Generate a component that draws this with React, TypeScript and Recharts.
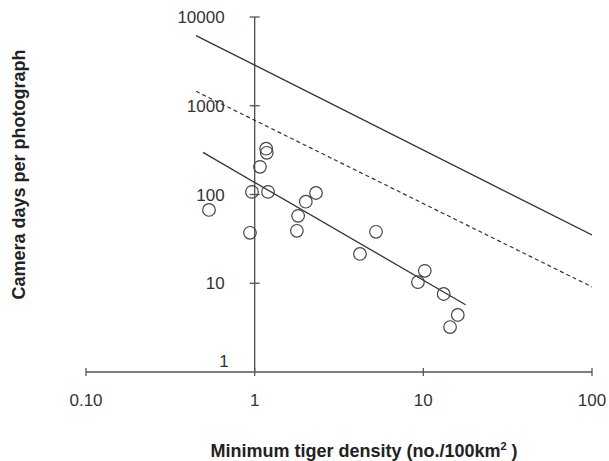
import {
  Label,
  ReferenceDot,
  ReferenceLine,
  Scatter,
  ScatterChart,
  XAxis,
  YAxis,
} from "recharts";

// minimum tiger density (no./100km2) and camera days per photograph, one per site
const densities = [
  1.17, 1.18, 1.075, 0.964, 1.2, 0.536, 0.938, 2.31, 2.01, 1.81, 1.78, 5.24,
  4.21, 10.2, 9.29, 13.2, 16.0, 14.4,
];
const cameraDays = [
  328, 295, 205, 107, 107, 67, 37, 104, 83, 57.5, 39, 38, 21.4, 13.8, 10.3,
  7.57, 4.39, 3.21,
];

// end points of the three lines
const upperLineX = [0.449, 100];
const upperLineY = [6180, 35];
const dashedLineX = [0.449, 100];
const dashedLineY = [1455, 9.1];
const fitLineX = [0.494, 17.8];
const fitLineY = [298, 5.73];

const xTicks = [0.1, 1, 10, 100];
const xTickLabels = ["0.10", "1", "10", "100"];
const yTicks = [1, 10, 100, 1000, 10000];
const yTickLabels = ["1", "10", "100", "1000", "10000"];

const points = densities.map((x, i) => ({ x, y: cameraDays[i] }));
const toLine = (xs: number[], ys: number[]) =>
  xs.map((x, i) => ({ x, y: ys[i] }));

const FONT = "'Liberation Sans', Arial, Helvetica, sans-serif";
const INK = "#333";
const AXIS = "#555";

function XTick(props: any) {
  const { x, y, payload } = props;
  const label = xTickLabels[xTicks.indexOf(payload.value)] ?? String(payload.value);
  return (
    <g>
      <line x1={x} x2={x} y1={y - 4} y2={y + 4} stroke={AXIS} strokeWidth={1.3} />
      <text
        x={x}
        y={y + 34}
        textAnchor="middle"
        fontSize={17}
        fontFamily={FONT}
        fill={INK}
      >
        {label}
      </text>
    </g>
  );
}

// tick mark and label drawn where the value sits on the y axis (x = 1)
const yTickShape = (label: string) => (props: any) => {
  const { cx, cy } = props;
  const atOrigin = label === "1";
  return (
    <g>
      {!atOrigin && (
        <line x1={cx - 5} x2={cx + 5} y1={cy} y2={cy} stroke={AXIS} strokeWidth={1.3} />
      )}
      <text
        x={atOrigin ? cx - 26 : cx - 30}
        y={atOrigin ? cy - 5 : cy + 6}
        textAnchor="end"
        fontSize={17}
        fontFamily={FONT}
        fill={INK}
      >
        {label}
      </text>
    </g>
  );
};

const ring = (props: any) => (
  <circle
    cx={props.cx}
    cy={props.cy}
    r={6.3}
    fill="none"
    stroke="#444"
    strokeWidth={1.2}
  />
);

const noMarker = () => <g />;

function XTitle(props: any) {
  const vb = props.viewBox;
  return (
    <text
      x={vb.x + vb.width / 2 + 25}
      y={vb.y + 85}
      textAnchor="middle"
      fontSize={18}
      fontWeight="bold"
      fontFamily={FONT}
      fill="#222"
    >
      Minimum tiger density (no./100km
      <tspan dy={-7} fontSize={11}>
        2
      </tspan>
      <tspan dy={7}> )</tspan>
    </text>
  );
}

function YTitle(props: any) {
  const vb = props.viewBox;
  const cx = vb.x + 19;
  const cy = vb.y + vb.height / 2 - 20;
  return (
    <text
      x={cx}
      y={cy}
      transform={`rotate(-90 ${cx} ${cy})`}
      textAnchor="middle"
      dominantBaseline="central"
      fontSize={18}
      fontWeight="bold"
      fontFamily={FONT}
      fill="#222"
    >
      Camera days per photograph
    </text>
  );
}

export default function App() {
  return (
    <div style={{ position: "absolute", left: 0, top: 0, background: "#fff" }}>
      <ScatterChart
        width={609}
        height={461}
        margin={{ top: 17, right: 17, bottom: 0, left: 0 }}
      >
        <XAxis
          type="number"
          dataKey="x"
          scale="log"
          domain={[0.1, 100]}
          ticks={xTicks}
          allowDataOverflow
          height={89}
          tickSize={0}
          tickMargin={0}
          tickLine={false}
          axisLine={{ stroke: AXIS, strokeWidth: 1.3 }}
          tick={<XTick />}
        >
          <Label content={XTitle} />
        </XAxis>
        <YAxis
          type="number"
          dataKey="y"
          scale="log"
          domain={[1, 10000]}
          ticks={yTicks}
          allowDataOverflow
          width={86}
          tick={false}
          tickLine={false}
          axisLine={false}
        >
          <Label content={YTitle} />
        </YAxis>
        <ReferenceLine x={1} stroke={AXIS} strokeWidth={1.4} />
        {yTicks.map((v, i) => (
          <ReferenceDot
            key={v}
            x={1}
            y={v}
            r={0}
            shape={yTickShape(yTickLabels[i])}
          />
        ))}
        <Scatter
          data={toLine(upperLineX, upperLineY)}
          line={{ stroke: INK, strokeWidth: 1.3 }}
          shape={noMarker}
          isAnimationActive={false}
        />
        <Scatter
          data={toLine(dashedLineX, dashedLineY)}
          line={{ stroke: INK, strokeWidth: 1.2, strokeDasharray: "4 3" }}
          shape={noMarker}
          isAnimationActive={false}
        />
        <Scatter
          data={toLine(fitLineX, fitLineY)}
          line={{ stroke: INK, strokeWidth: 1.3 }}
          shape={noMarker}
          isAnimationActive={false}
        />
        <Scatter data={points} shape={ring} isAnimationActive={false} />
      </ScatterChart>
    </div>
  );
}
